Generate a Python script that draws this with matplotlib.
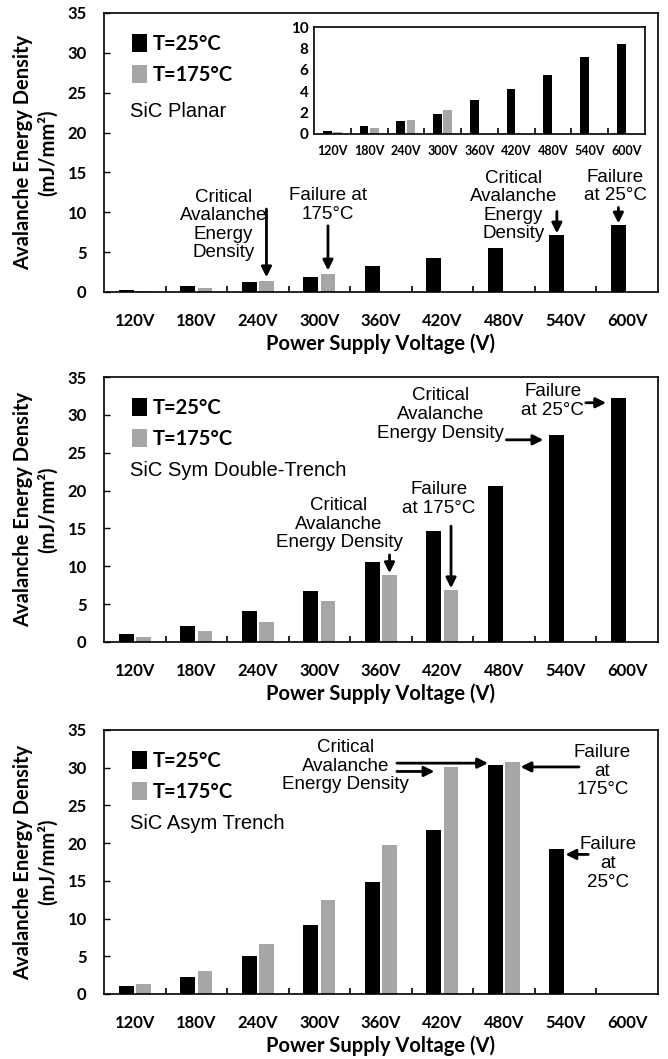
import numpy as np
import matplotlib
matplotlib.use("Agg")
import matplotlib.pyplot as plt
from matplotlib import font_manager

# ---- data ----
voltages = ["120V", "180V", "240V", "300V", "360V", "420V", "480V", "540V", "600V"]

planar_25 = [0.3, 0.7, 1.25, 1.9, 3.2, 4.25, 5.55, 7.15, 8.4]
planar_175 = [0.15, 0.55, 1.35, 2.2, np.nan, np.nan, np.nan, np.nan, np.nan]

symdt_25 = [1.0, 2.1, 4.1, 6.7, 10.5, 14.7, 20.6, 27.3, 32.2]
symdt_175 = [0.7, 1.45, 2.6, 5.4, 8.8, 6.9, np.nan, np.nan, np.nan]

asym_25 = [1.0, 2.3, 5.1, 9.2, 14.8, 21.8, 30.3, 19.2, np.nan]
asym_175 = [1.35, 3.0, 6.6, 12.4, 19.8, 30.1, 30.7, np.nan, np.nan]

legend_labels = ["T=25°C", "T=175°C"]
device_names = ["SiC Planar", "SiC Sym Double-Trench", "SiC Asym Trench"]

BLACK = "#000000"
GRAY = "#a6a6a6"
BW = 0.24
OFF = 0.14

names = {f.name for f in font_manager.fontManager.ttflist}
BOLD_FONT = "Lato" if "Lato" in names else "DejaVu Sans"
ANN_FONT = "Liberation Sans"

x = np.arange(len(voltages))


def style_axes(ax, ymax, ystep, tick_fs, xpad, ypad, lw=1.2):
    ax.set_xlim(-0.5, len(voltages) - 0.5)
    ax.set_ylim(0, ymax)
    ax.set_yticks(np.arange(0, ymax + 0.1, ystep))
    ax.set_xticks(x)
    ax.set_xticklabels(voltages)
    ax.set_xticks(np.arange(0.5, len(voltages) - 0.5, 1), minor=True)
    ax.tick_params(axis="x", which="major", length=0, pad=xpad)
    ax.tick_params(axis="x", which="minor", direction="in", length=4, width=1.2)
    ax.tick_params(axis="y", direction="in", length=4.5, width=1.0, pad=ypad)
    for lab in ax.get_xticklabels() + ax.get_yticklabels():
        lab.set_fontfamily(BOLD_FONT)
        lab.set_fontweight("bold")
    ax.tick_params(axis="both", labelsize=tick_fs)
    for sp in ax.spines.values():
        sp.set_linewidth(lw)
        sp.set_color("black")


def draw_panel(ax, v25, v175, name):
    b1 = ax.bar(x - OFF, v25, BW, color=BLACK, label=legend_labels[0])
    b2 = ax.bar(x + OFF, v175, BW, color=GRAY, label=legend_labels[1])
    style_axes(ax, 35, 5, 12, 15, 12.5)
    ax.set_ylabel("Avalanche Energy Density\n(mJ/mm²)", fontfamily=BOLD_FONT,
                  fontweight="bold", fontsize=14.5, labelpad=7, linespacing=1.25)
    ax.set_xlabel("Power Supply Voltage (V)", fontfamily=BOLD_FONT,
                  fontweight="bold", fontsize=14.5, labelpad=3)
    ax.legend(handles=[b1, b2], loc="upper left", bbox_to_anchor=(0.025, 0.975),
              frameon=False, handlelength=0.75, handleheight=1.0,
              handletextpad=0.3, labelspacing=0.55, borderpad=0.2,
              prop={"family": BOLD_FONT, "weight": "bold", "size": 14.5})
    ax.text(-0.08, 22.6, name, fontfamily=ANN_FONT, fontsize=14.5, va="center", ha="left")


def arrow(ax, start, tip):
    ax.annotate("", xy=tip, xytext=start,
                arrowprops=dict(arrowstyle="-|>", lw=2.0, color="black",
                                mutation_scale=15, shrinkA=0, shrinkB=0))


def note(ax, xc, yc, s):
    ax.text(xc, yc, s, fontfamily=ANN_FONT, fontsize=13.5, ha="center",
            va="center", multialignment="center", linespacing=1.12)


fig = plt.figure(figsize=(6.68, 10.59), dpi=100)
L, W = 0.1557, 0.829
ax1 = fig.add_axes([L, 0.7243, W, 0.2635])
ax2 = fig.add_axes([L, 0.3938, W, 0.2502])
ax3 = fig.add_axes([L, 0.0614, W, 0.2493])

# panel 1 : planar
draw_panel(ax1, planar_25, planar_175, device_names[0])
note(ax1, 1.44, 8.4, "Critical\nAvalanche\nEnergy\nDensity")
arrow(ax1, (2.14, 10.4), (2.14, planar_175[2] + 0.5))
note(ax1, 3.14, 10.9, "Failure at\n175°C")
arrow(ax1, (3.14, 8.3), (3.14, planar_175[3] + 0.5))
note(ax1, 6.15, 10.8, "Critical\nAvalanche\nEnergy\nDensity")
arrow(ax1, (6.86, 10.1), (6.86, planar_25[7] + 0.2))
note(ax1, 7.81, 13.25, "Failure\nat 25°C")
arrow(ax1, (7.86, 10.6), (7.86, planar_25[8] + 0.2))

# inset zoom of planar device
axin = fig.add_axes([0.470, 0.8735, 0.4955, 0.101])
axin.bar(x - OFF, planar_25, BW, color=BLACK)
axin.bar(x + OFF, planar_175, BW, color=GRAY)
style_axes(axin, 10, 2, 11, 8, 4, lw=1.2)
axin.tick_params(axis="x", labelsize=9)
axin.tick_params(axis="y", length=0)

# panel 2 : symmetric double trench
draw_panel(ax2, symdt_25, symdt_175, device_names[1])
note(ax2, 4.97, 30.05, "Critical\nAvalanche\nEnergy Density")
arrow(ax2, (6.04, 26.7), (6.64, 26.7))
note(ax2, 6.79, 31.8, "Failure\nat 25°C")
arrow(ax2, (7.33, 31.6), (7.66, 31.6))
note(ax2, 3.32, 15.55, "Critical\nAvalanche\nEnergy Density")
arrow(ax2, (4.14, 11.5), (4.14, symdt_175[4] + 0.3))
note(ax2, 4.94, 18.85, "Failure\nat 175°C")
arrow(ax2, (5.14, 15.3), (5.14, symdt_175[5] + 0.2))

# panel 3 : asymmetric trench
draw_panel(ax3, asym_25, asym_175, device_names[2])
note(ax3, 3.43, 30.2, "Critical\nAvalanche\nEnergy Density")
arrow(ax3, (4.26, 30.6), (5.74, 30.6))
arrow(ax3, (4.26, 29.5), (4.87, 29.5))
note(ax3, 7.6, 29.55, "Failure\nat\n175°C")
arrow(ax3, (7.22, 30.1), (6.27, 30.1))
note(ax3, 7.69, 17.3, "Failure\nat\n25°C")
arrow(ax3, (7.37, 18.5), (7.0, 18.5))

fig.savefig("out.png", dpi=100)
